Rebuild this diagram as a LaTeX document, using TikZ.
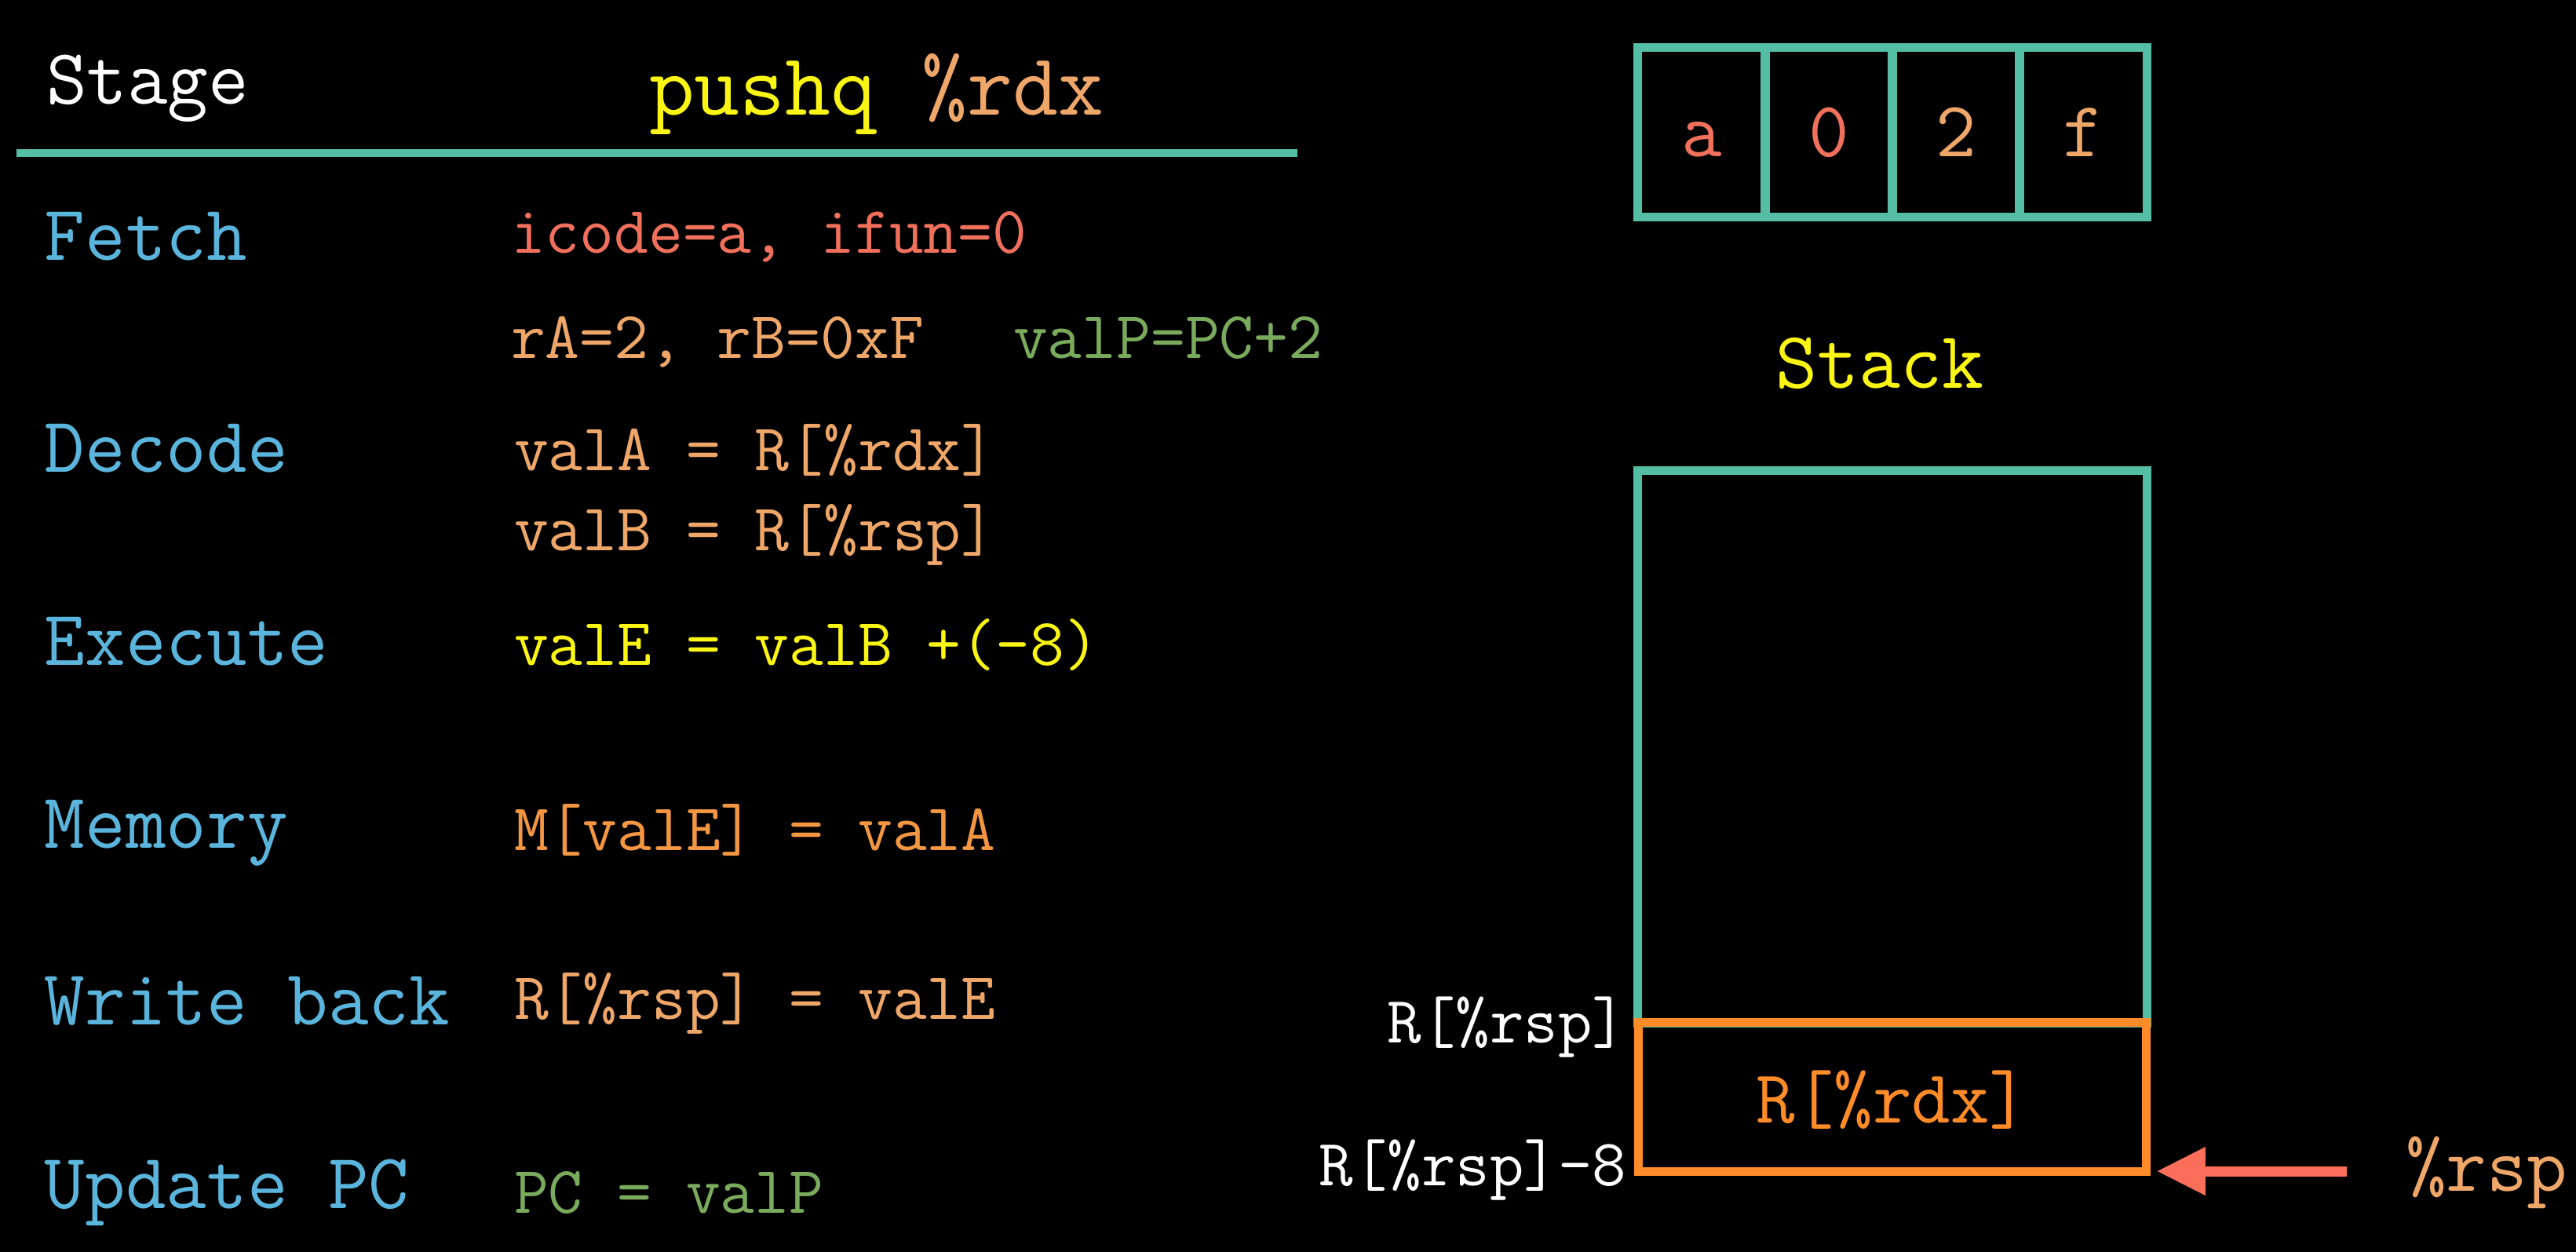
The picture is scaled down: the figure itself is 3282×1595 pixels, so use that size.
\documentclass[tikz,border=0pt]{standalone}
\usepackage{tikz}
\usetikzlibrary{positioning, arrows.meta}
\definecolor{frameTeal}{RGB}{83,190,163}
\definecolor{stageBlue}{RGB}{90,180,220}
\definecolor{icodeRed}{RGB}{240,112,92}
\definecolor{lightOrange}{RGB}{238,166,105}
\definecolor{codeOrange}{RGB}{242,150,66}
\definecolor{titleYellow}{RGB}{250,245,20}
\definecolor{valGreen}{RGB}{122,170,92}
\definecolor{slotOrange}{RGB}{255,140,40}
\definecolor{arrowRed}{RGB}{250,110,90}
\tikzstyle{slide} = [x = 0.01cm, y = -0.01cm, every node/.style={inner sep = 0, outer sep = 0}]
\tikzstyle{stageText} = [font=\fontsize{28.5}{34}\selectfont\ttfamily, text=stageBlue, anchor=base west]
\tikzstyle{codeText} = [font=\fontsize{24.2}{29}\selectfont\ttfamily, anchor=base west]
\tikzstyle{titleText} = [font=\fontsize{32}{38}\selectfont\ttfamily, anchor=base west]
\tikzstyle{ruleLine} = [draw=frameTeal, line width=0.1cm]
\tikzstyle{byteCell} = [draw=frameTeal, line width=0.11cm, minimum width=1.62cm, minimum height=2.15cm, text height=0.61cm, text depth=0cm, font=\fontsize{28.5}{34}\selectfont\ttfamily]
\tikzstyle{stackFrame} = [draw=frameTeal, line width=0.11cm, minimum width=6.48cm, minimum height=7.03cm]
\tikzstyle{slotStyle} = [draw=slotOrange, line width=0.11cm, minimum width=6.47cm, minimum height=1.89cm, text=slotOrange, text height=0.65cm, text depth=0cm, font=\fontsize{27.3}{33}\selectfont\ttfamily]
\tikzstyle{addrText} = [font=\fontsize{24}{29}\selectfont\ttfamily, text=white, anchor=base east]
\tikzstyle{rspArrow} = [draw=arrowRed, line width=0.13cm, -{Triangle[length=0.62cm, width=0.58cm]}, shorten >= 0.13cm]
\newcommand{\stageLabel}[3]{\node [stageText] (#1) at (57, #2) {#3};}
\newcommand{\codeLine}[5]{\node [codeText, text=#4] (#1) at (#2, #3) {#5};}

\begin{document}
\begin{tikzpicture}[slide]
  \fill [black] (0,0) rectangle (3282,1595);

  \node [titleText, text=white, font=\fontsize{28.5}{34}\selectfont\ttfamily] (stageHead) at (59,133) {Stage};
  \node [titleText, text=titleYellow] (instr) at (827,147) {pushq \textcolor{lightOrange}{\%rdx}};
  \draw [ruleLine] (21,195) -- (1653,195);

  \stageLabel{fetch}{332}{Fetch}
  \stageLabel{decode}{602}{Decode}
  \stageLabel{execute}{847}{Execute}
  \stageLabel{memory}{1080}{Memory}
  \stageLabel{writeBack}{1305}{Write back}
  \stageLabel{updatePC}{1539}{Update PC}

  \codeLine{icode}{651}{323}{icodeRed}{icode=a, ifun=0}
  \codeLine{regs}{651}{457}{lightOrange}{rA=2, rB=0xF}
  \codeLine{valP}{1291}{457}{valGreen}{valP=PC+2}
  \codeLine{valA}{655}{600}{lightOrange}{valA = R[\%rdx]}
  \codeLine{valB}{655}{702}{lightOrange}{valB = R[\%rsp]}
  \codeLine{valE}{655}{847}{titleYellow}{valE = valB +(-8)}
  \codeLine{memWrite}{655}{1083}{codeOrange}{M[valE] = valA}
  \codeLine{regWrite}{655}{1298}{lightOrange}{R[\%rsp] = valE}
  \codeLine{newPC}{655}{1545}{valGreen}{PC = valP}

  \foreach \byteText/\byteColor [count=\i] in {a/icodeRed, 0/icodeRed, 2/lightOrange, f/lightOrange} {
    \node [byteCell, text=\byteColor] (byte\i) at (2006 + 162 * \i, 168.5) {\byteText};
  }

  \node [titleText, text=titleYellow, font=\fontsize{29.3}{35}\selectfont\ttfamily] (stackHead) at (2262,495) {Stack};
  \node [stackFrame] (stack) at (2411,951.5) {};
  \node [slotStyle] (slot) at (2411,1397.5) {R[\%rdx]};
  \node [addrText] (oldRsp) at (2072,1328) {R[\%rsp]};
  \node [addrText] (newRsp) at (2072,1510) {R[\%rsp]-8};

  \node [titleText, text=lightOrange, font=\fontsize{28.5}{34}\selectfont\ttfamily] (rspPtr) at (3065,1517) {\%rsp};
  \draw [rspArrow, shorten <= 0.75cm] (rspPtr.west |- slot.south east) -- (slot.south east);
\end{tikzpicture}
\end{document}
